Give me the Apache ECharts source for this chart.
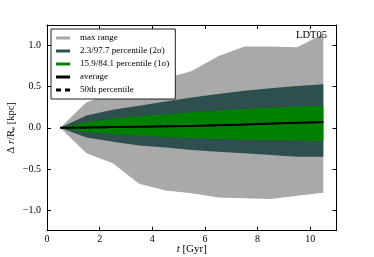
<!DOCTYPE html>
<html><head><meta charset="utf-8">
<script src="https://cdn.jsdelivr.net/npm/echarts@6/dist/echarts.min.js"></script>
<style>html,body{margin:0;padding:0;background:#fff}#c{width:374px;height:257px}</style>
</head><body><div id="c"></div>
<script>
const times   = [0.5, 1.5, 2.5, 3.5, 4.5, 5.5, 6.5, 7.5, 8.5, 9.5, 10.5];
const maxLow  = [0, -0.31, -0.43, -0.68, -0.76, -0.795, -0.845, -0.855, -0.865, -0.825, -0.79];
const maxHigh = [0, 0.31, 0.42, 0.52, 0.60, 0.69, 0.87, 0.99, 0.99, 0.98, 1.14];
const p2Low   = [0, -0.117, -0.17, -0.215, -0.24, -0.27, -0.29, -0.31, -0.33, -0.35, -0.35];
const p2High  = [0, 0.15, 0.22, 0.27, 0.32, 0.37, 0.41, 0.45, 0.48, 0.51, 0.53];
const p1Low   = [0, -0.05, -0.075, -0.095, -0.11, -0.125, -0.135, -0.145, -0.15, -0.155, -0.16];
const p1High  = [0, 0.07, 0.11, 0.145, 0.165, 0.19, 0.21, 0.23, 0.245, 0.26, 0.27];
const average = [0, 0.004, 0.009, 0.014, 0.019, 0.024, 0.033, 0.042, 0.052, 0.061, 0.07];
const median  = [0, 0.002, 0.007, 0.012, 0.017, 0.022, 0.031, 0.040, 0.050, 0.059, 0.068];
const xTicks  = [0, 2, 4, 6, 8, 10];
const yTicks  = [-1.0, -0.5, 0.0, 0.5, 1.0];
const labelTitle = 'LDT05';

const FONT = 'Liberation Serif';
const pts = ys => times.map((x, i) => [x, ys[i]]);
const fmtY = v => (v < 0 ? '\u2212' : '') + Math.abs(v).toFixed(1);

// Each band straddles zero, so filling from 0 to the upper and from 0 to the lower edge,
// layered in order, yields the band fill.
function band(name, lo, hi, color, z) {
  return [hi, lo].map(ys => ({
    type: 'line', name: name, data: pts(ys), symbol: 'none', color: color, z: z,
    lineStyle: { width: 0, opacity: 0 },
    areaStyle: { color: color, opacity: 1, origin: 0 }
  }));
}

const axisCommon = {
  axisLine: { show: true, onZero: false, lineStyle: { color: '#000', width: 1 } },
  splitLine: { show: false },
};

const option = {
  animation: false,
  backgroundColor: '#fff',
  title: { text: labelTitle, right: 42, top: 25, textStyle: { fontFamily: FONT, fontSize: 10.5, fontWeight: 'normal', color: '#000' } },
  grid: { left: 47, right: 37.5, top: 25, bottom: 26.3, outerBoundsMode: 'none', containLabel: false },
  legend: {
    left: 51, top: 29, orient: 'vertical', z: 10,
    backgroundColor: '#fff', borderColor: '#222', borderWidth: 1, borderRadius: 0,
    padding: [4, 6, 4, 5], itemGap: 3, itemWidth: 14, itemHeight: 3,
    textStyle: { fontFamily: FONT, fontSize: 9, color: '#000', lineHeight: 10, padding: [0, 0, 0, 5] },
    data: [
      { name: 'max range', icon: 'rect' },
      { name: '2.3/97.7 percentile (2\u03C3)', icon: 'rect' },
      { name: '15.9/84.1 percentile (1\u03C3)', icon: 'rect' },
      { name: 'average', icon: 'rect' },
      { name: '50th percentile', icon: 'path://M0,0H5V3H0Z M9,0H14V3H9Z' }
    ]
  },
  xAxis: [
    Object.assign({}, axisCommon, {
      type: 'value', min: 0, max: 11, position: 'bottom',
      axisTick: { show: true, inside: true, length: 4, customValues: xTicks, lineStyle: { color: '#000' } },
      axisLabel: { customValues: xTicks, fontFamily: FONT, fontSize: 10, color: '#000', margin: 4 },
      name: '{i|t} [Gyr]', nameLocation: 'middle', nameGap: 12.5, nameMoveOverlap: false,
      nameTextStyle: { fontFamily: FONT, fontSize: 11, color: '#000', verticalAlign: 'top',
        rich: { i: { fontFamily: FONT, fontStyle: 'italic', fontSize: 11 } } }
    }),
    Object.assign({}, axisCommon, {
      type: 'value', min: 0, max: 11, position: 'top',
      axisTick: { show: true, inside: true, length: 4, customValues: xTicks, lineStyle: { color: '#000' } },
      axisLabel: { show: false }
    })
  ],
  yAxis: [
    Object.assign({}, axisCommon, {
      type: 'value', min: -1.25, max: 1.25, position: 'left',
      axisTick: { show: true, inside: true, length: 4, customValues: yTicks, lineStyle: { color: '#000' } },
      axisLabel: { customValues: yTicks, formatter: fmtY, fontFamily: FONT, fontSize: 10, color: '#000', margin: 6 },
      name: '\u0394 {i|r}/R{s|e} [kpc]', nameLocation: 'middle', nameGap: 30, nameRotate: 90, nameMoveOverlap: false,
      nameTextStyle: { fontFamily: FONT, fontSize: 10.5, color: '#000',
        rich: { i: { fontFamily: FONT, fontStyle: 'italic', fontSize: 10.5 }, s: { fontFamily: FONT, fontSize: 7, padding: [4, 0, 0, 0] } } }
    }),
    Object.assign({}, axisCommon, {
      type: 'value', min: -1.25, max: 1.25, position: 'right',
      axisTick: { show: true, inside: true, length: 4, customValues: yTicks, lineStyle: { color: '#000' } },
      axisLabel: { show: false }
    })
  ],
  series: [].concat(
    band('max range', maxLow, maxHigh, '#a9a9a9', 1),
    band('2.3/97.7 percentile (2\u03C3)', p2Low, p2High, '#2f4f4f', 2),
    band('15.9/84.1 percentile (1\u03C3)', p1Low, p1High, '#008000', 3),
    [
      { type: 'line', name: 'average', data: pts(average), symbol: 'none', color: '#000',
        lineStyle: { color: '#000', width: 2 }, z: 4 },
      { type: 'line', name: '50th percentile', data: pts(median), symbol: 'none', color: '#000',
        lineStyle: { color: '#000', width: 1.5, type: [4, 3] }, z: 5 }
    ]
  )
};
const chart = echarts.init(document.getElementById('c'), null, { renderer: 'canvas' });
chart.setOption(option);
</script></body></html>
